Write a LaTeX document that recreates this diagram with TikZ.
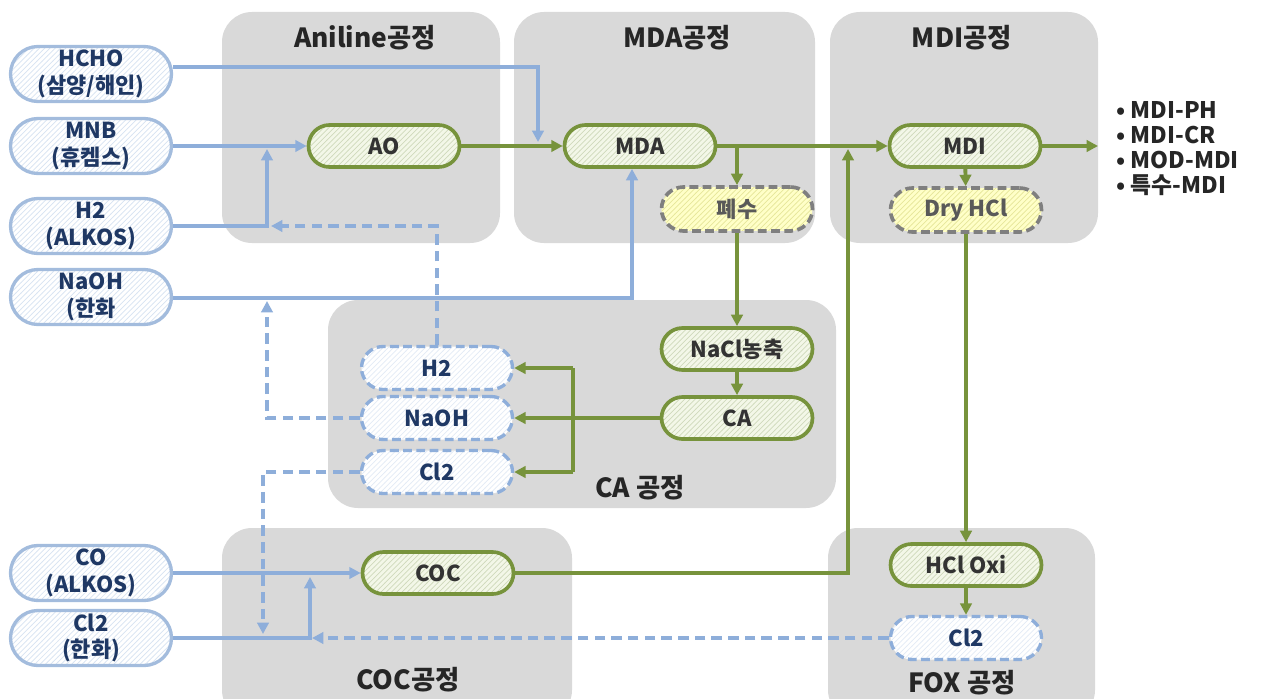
\documentclass[tikz,border=0pt]{standalone}
\usepackage{fontspec}
\setmainfont{Noto Sans CJK KR}
\usetikzlibrary{patterns,arrows.meta,calc}
\definecolor{panel}{HTML}{D9D9D9}
\definecolor{bl}{HTML}{8EAEDA}
\definecolor{blb}{HTML}{A3BCDD}
\definecolor{gr}{HTML}{77933C}
\definecolor{navy}{HTML}{1F3864}
\definecolor{ylw}{HTML}{FFFFC8}
\definecolor{lgr}{HTML}{F3F7E8}
\definecolor{dgray}{HTML}{7F7F7F}
\definecolor{ttl}{HTML}{262626}
\begin{document}
\begin{tikzpicture}[x=0.02cm,y=-0.02cm,
  panelbox/.style={fill=panel,rounded corners=0.6cm},
  ttlstyle/.style={text=ttl,font=\bfseries\fontsize{15}{17}\selectfont},
  inbox/.style={draw=blb,line width=1.9pt,rounded corners=0.55cm,minimum width=3.22cm,minimum height=1.1cm,
    preaction={fill=white},pattern=north east lines,pattern color=bl!35,text=navy,
    font=\bfseries\fontsize{12.5}{15}\selectfont,align=center,inner sep=0pt},
  procbox/.style={draw=gr,line width=2.1pt,rounded corners=0.42cm,minimum width=3.02cm,minimum height=0.84cm,
    preaction={fill=lgr},pattern=north east lines,pattern color=gr!35,text=black!80,
    font=\bfseries\fontsize{12.5}{14}\selectfont,inner sep=0pt},
  wastebox/.style={draw=dgray,line width=2.1pt,dash pattern=on 5pt off 2.5pt,rounded corners=0.44cm,minimum width=3.02cm,minimum height=0.88cm,
    preaction={fill=ylw},pattern=north east lines,pattern color=yellow!60!gray!50,text=black!65,
    font=\bfseries\fontsize{12.5}{14}\selectfont,inner sep=0pt},
  recbox/.style={draw=bl,line width=1.9pt,dash pattern=on 5pt off 2.5pt,rounded corners=0.43cm,minimum width=3.02cm,minimum height=0.86cm,
    preaction={fill=white},pattern=north east lines,pattern color=bl!25,text=navy,
    font=\bfseries\fontsize{12.5}{14}\selectfont,inner sep=0pt},
  outtext/.style={text=ttl,font=\bfseries\fontsize{13}{15}\selectfont,anchor=west,inner sep=0pt},
  tip/.style={-{Triangle[length=6.5pt,width=6.5pt]}},
  bline/.style={draw=bl,line width=2pt,tip},
  bdash/.style={draw=bl,line width=2pt,dash pattern=on 6pt off 3.5pt,tip},
  gline/.style={draw=gr,line width=2.2pt,tip}]
\useasboundingbox (0,0) rectangle (1263,699);
% panels
\fill[panelbox] (222,12) rectangle (500,243);
\fill[panelbox] (514,12) rectangle (815,243);
\fill[panelbox] (830,12) rectangle (1098,243);
\fill[panelbox] (328,300) rectangle (836,508);
\fill[panelbox] (222,528) rectangle (572,720);
\fill[panelbox] (828,528) rectangle (1095,720);
% titles
\node[ttlstyle] (t1) at (365,38) {Aniline공정};
\node[ttlstyle] (t2) at (677,38) {MDA공정};
\node[ttlstyle] (t3) at (962,38) {MDI공정};
\node[ttlstyle] (t4) at (640,488) {CA 공정};
\node[ttlstyle] (t5) at (408,680) {COC공정};
\node[ttlstyle] (t6) at (962,683) {FOX 공정};
% inputs
\node[inbox] (hcho) at (91,74) {HCHO\\(삼양/해인)};
\node[inbox] (mnb) at (91,146) {MNB\\(휴켐스)};
\node[inbox] (h2in) at (91,226) {H2\\(ALKOS)};
\node[inbox] (naohin) at (91,297) {NaOH\\(한화};
\node[inbox] (coin) at (91,573) {CO\\(ALKOS)};
\node[inbox] (cl2in) at (91,638) {Cl2\\(한화)};
% process
\node[procbox] (ao) at (384,146) {AO};
\node[procbox] (mda) at (640,146) {MDA};
\node[procbox] (mdi) at (965,146) {MDI};
\node[procbox] (nacl) at (737,349) {NaCl농축};
\node[procbox] (ca) at (737,418) {CA};
\node[procbox] (coc) at (438,573) {COC};
\node[procbox] (hclox) at (966,565) {HCl Oxi};
\node[wastebox] (waste) at (737,209) {폐수};
\node[wastebox] (dry) at (966,210) {Dry HCl};
\node[recbox] (h2r) at (437,368) {H2};
\node[recbox] (naohr) at (437,418) {NaOH};
\node[recbox] (cl2r) at (437,472) {Cl2};
\node[recbox] (cl2f) at (966,638) {Cl2};
% outputs
\node[outtext] (o1) at (1116,110) {• MDI-PH};
\node[outtext] (o2) at (1116,135) {• MDI-CR};
\node[outtext] (o3) at (1116,160) {• MOD-MDI};
\node[outtext] (o4) at (1116,185) {• 특수-MDI};
% coordinates
\coordinate (b1) at (538,67);
\coordinate (b2) at (538,142);
\coordinate (b3) at (267,226);
\coordinate (b4) at (267,149);
\coordinate (b5) at (632,298);
\coordinate (b6) at (271,226);
\coordinate (b7) at (267,418);
\coordinate (b8) at (267,301);
\coordinate (b9) at (263,472);
\coordinate (b10) at (263,634);
\coordinate (b11) at (312,638);
\coordinate (b12) at (310,638);
\coordinate (b13) at (310,577);
\coordinate (g1) at (737,146);
\coordinate (g2) at (573,368);
\coordinate (g3) at (573,472);
\coordinate (g4) at (848,573);
\coordinate (g5) at (848,149);
\coordinate (g6) at (1098,146);
% blue solid
\draw[bline] (hcho.east) ++(0,-7) -- (b1) -- (b2);
\draw[bline] (mnb) -- (ao);
\draw[bline] (h2in.east |- b3) -- (b3) -- (b4);
\draw[bline] (naohin.east |- b5) -- (b5) -- (b5 |- mda.south);
\draw[bline] (coin) -- (coc);
\draw[bline] (cl2in.east |- b12) -- (b12) -- (b13);
% blue dashed recycles
\draw[bdash] (h2r.north) -- (h2r.north |- b6) -- (b6);
\draw[bdash] (naohr.west) -- (b7) -- (b8);
\draw[bdash] (cl2r.west) -- (b9) -- (b10);
\draw[bdash] (cl2f.west) -- (b11);
% green
\draw[gline] (ao) -- (mda);
\draw[gline] (mda) -- (mdi);
\draw[gline] (g1) -- (waste.north);
\draw[gline] (waste) -- (nacl);
\draw[gline] (nacl) -- (ca);
\draw[gline] (ca) -- (naohr);
\draw[draw=gr,line width=2.2pt] (g2) -- (g3);
\draw[gline] (g2) -- (h2r.east);
\draw[gline] (g3) -- (cl2r.east);
\draw[gline] (coc.east) -- (g4) -- (g5);
\draw[gline] (mdi) -- (g6);
\draw[gline] (mdi) -- (dry);
\draw[gline] (dry) -- (hclox);
\draw[gline] (hclox) -- (cl2f);
\end{tikzpicture}
\end{document}
